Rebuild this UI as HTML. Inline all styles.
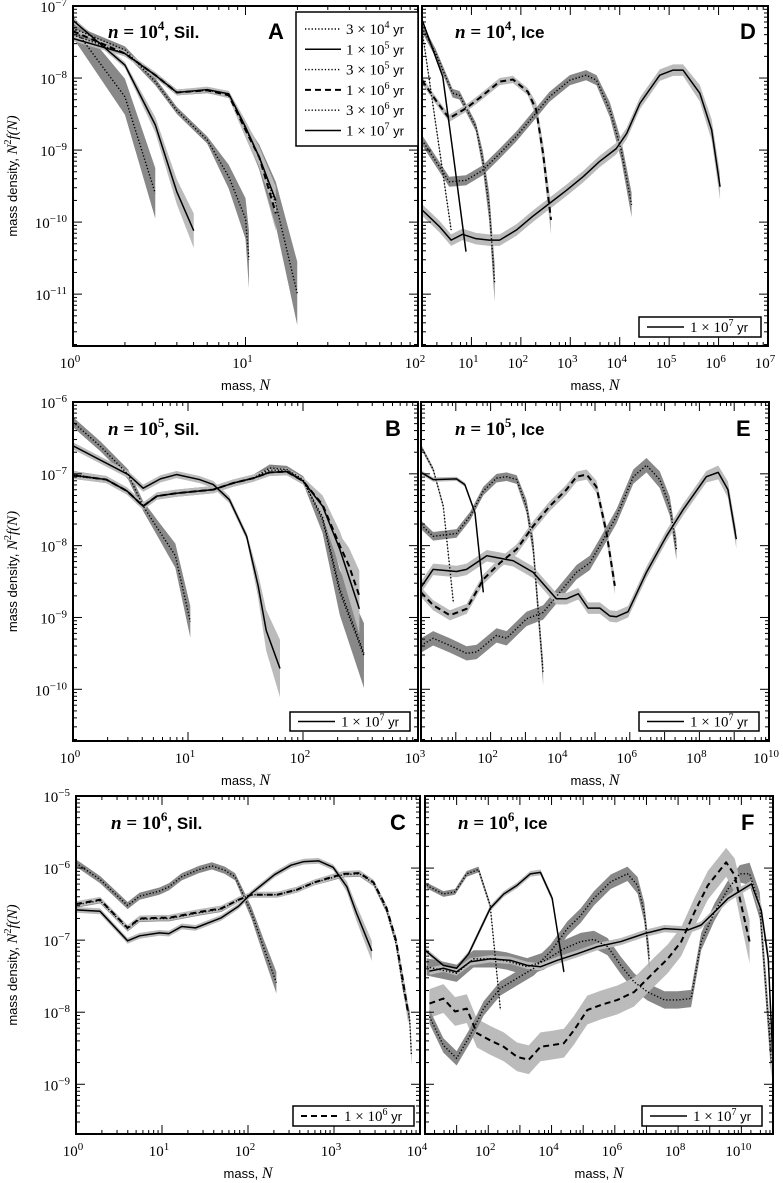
<!DOCTYPE html>
<html><head><meta charset="utf-8"><style>
html,body{margin:0;padding:0;background:#fff;}
svg{display:block;}
.tk{font-family:"Liberation Serif",serif;font-size:15px;}
.ax{font-family:"Liberation Sans",sans-serif;font-size:13px;}
</style></head><body>
<svg id="fig" width="783" height="1183" viewBox="0 0 783 1183" xmlns="http://www.w3.org/2000/svg"></svg>
<script>
// ---- data (log10 mass N, log10 mass density) ----
const A1_N=[0,0.301,0.477], A1_Y=[-7.29,-8.26,-9.6];
const A2_N=[0,0.301,0.477,0.602,0.70], A2_Y=[-7.2,-7.82,-8.65,-9.58,-10.12];
const A3_N=[0,0.301,0.477,0.602,0.778,0.903,1.0,1.02], A3_Y=[-7.31,-7.61,-8.05,-8.45,-8.86,-9.37,-9.95,-10.52];
const A4_N=[0,0.301,0.477,0.602,0.778,0.903,1.0,1.08,1.176], A4_Y=[-7.35,-7.66,-7.96,-8.2,-8.17,-8.24,-8.72,-9.1,-9.88];
const A5_N=[0,0.301,0.477,0.602,0.778,0.903,1.0,1.08,1.176,1.30], A5_Y=[-7.40,-7.66,-7.96,-8.2,-8.17,-8.22,-8.70,-9.1,-9.75,-10.99];
const A6_N=[0,0.301,0.477,0.602,0.778,0.903,1.0,1.08,1.176], A6_Y=[-7.45,-7.66,-7.96,-8.2,-8.16,-8.22,-8.68,-9.1,-9.7];

const D1_N=[0,0.59], D1_Y=[-7.33,-10.11];
const D2_N=[0,0.42,0.62,0.89], D2_Y=[-7.19,-7.98,-9.0,-10.41];
const D3_N=[0,0.28,0.62,0.76,1.09,1.23,1.36,1.47], D3_Y=[-7.3,-7.66,-8.21,-8.24,-8.68,-9.14,-9.79,-10.85];
const D4_N=[0,0.28,0.55,0.89,1.16,1.57,1.84,2.14,2.31,2.45,2.61], D4_Y=[-8.03,-8.31,-8.56,-8.42,-8.28,-8.05,-8.02,-8.19,-8.44,-9.05,-9.97];
const D5_N=[0,0.35,0.55,0.89,1.23,1.57,1.91,2.24,2.58,2.99,3.32,3.53,3.80,4.03,4.24], D5_Y=[-8.86,-9.23,-9.44,-9.42,-9.28,-9.05,-8.81,-8.54,-8.26,-8.03,-7.96,-8.03,-8.44,-9.0,-9.76];
const D6_N=[0,0.35,0.59,0.82,1.09,1.36,1.57,1.91,2.24,2.58,2.92,3.26,3.59,3.93,4.14,4.41,4.81,5.08,5.28,5.62,5.86,6.03], D6_Y=[-9.83,-10.06,-10.25,-10.17,-10.23,-10.25,-10.25,-10.11,-9.92,-9.74,-9.56,-9.37,-9.16,-8.98,-8.77,-8.35,-7.96,-7.89,-7.89,-8.21,-8.72,-9.51];

const B1_N=[0,0.24,0.48,0.61,0.76,0.89,1.02], B1_Y=[-6.28,-6.62,-7.01,-7.45,-7.82,-8.14,-9.06];
const B2_N=[0,0.48,0.61,0.76,0.90,1.10,1.22,1.36,1.51,1.61,1.68,1.80], B2_Y=[-6.61,-7.01,-7.20,-7.07,-7.01,-7.08,-7.15,-7.36,-7.87,-8.56,-9.18,-9.71];
const B3_N=[0,0.29,0.47,0.61,0.73,0.9,1.22,1.39,1.57,1.71,1.86,2.0,2.17,2.32,2.53], B3_Y=[-7.01,-7.08,-7.24,-7.45,-7.31,-7.27,-7.22,-7.13,-7.06,-6.92,-6.94,-7.08,-7.64,-8.65,-9.53];
const B4_N=[0,0.29,0.47,0.61,0.73,0.9,1.22,1.39,1.57,1.71,1.86,2.0,2.17,2.32,2.40,2.49], B4_Y=[-7.02,-7.08,-7.24,-7.45,-7.31,-7.27,-7.22,-7.13,-7.06,-6.98,-6.97,-7.1,-7.43,-8.0,-8.28,-8.70];
const B5_N=[0,0.29,0.47,0.61,0.73,0.9,1.22,1.39,1.57,1.71,1.86,2.0,2.17,2.32,2.53], B5_Y=[-7.03,-7.08,-7.24,-7.45,-7.31,-7.27,-7.22,-7.13,-7.06,-6.95,-6.95,-7.1,-7.6,-8.6,-9.5];
const B6_N=[0,0.29,0.47,0.61,0.73,0.9,1.22,1.39,1.57,1.71,1.86,2.0,2.17,2.32,2.49], B6_Y=[-7.02,-7.08,-7.24,-7.45,-7.31,-7.27,-7.22,-7.13,-7.06,-6.98,-6.97,-7.1,-7.45,-8.05,-8.88];

const E1_N=[0,0.35,0.64,0.93], E1_Y=[-6.62,-6.94,-7.45,-8.79];
const E2_N=[0,0.35,1.02,1.26,1.55,1.79], E2_Y=[-6.98,-7.08,-7.07,-7.15,-7.54,-8.65];
const E3_N=[0,0.35,1.02,1.41,1.79,2.17,2.46,2.75,3.03,3.22,3.51], E3_Y=[-7.71,-7.87,-7.83,-7.59,-7.24,-7.06,-7.04,-7.08,-7.45,-8.0,-9.78];
const E4_N=[0,0.35,0.83,1.31,1.79,2.27,2.75,3.22,3.70,4.18,4.47,4.76,5.04,5.33,5.57], E4_Y=[-8.65,-8.83,-8.97,-8.88,-8.47,-8.24,-8.05,-7.73,-7.45,-7.22,-7.04,-7.01,-7.18,-7.82,-8.56];
const E5_N=[0,0.35,0.83,1.31,1.60,2.17,2.46,3.03,3.51,3.99,4.47,4.85,5.14,5.62,6.10,6.48,6.86,7.15,7.34], E5_Y=[-9.39,-9.29,-9.39,-9.50,-9.48,-9.25,-9.29,-9.02,-8.93,-8.65,-8.37,-8.24,-8.0,-7.59,-7.04,-6.88,-7.08,-7.45,-8.05];
const E6_N=[0,0.35,1.02,1.31,1.89,2.65,3.22,3.89,4.18,4.52,4.80,5.14,5.43,5.62,5.95,6.48,7.05,7.53,8.20,8.54,8.82,9.06], E6_Y=[-8.58,-8.33,-8.36,-8.33,-8.14,-8.21,-8.37,-8.74,-8.74,-8.67,-8.87,-8.87,-8.98,-8.99,-8.92,-8.37,-7.87,-7.50,-7.04,-6.98,-7.22,-7.91];

const C1_N=[0,0.28,0.60,0.74,0.97,1.08,1.23,1.43,1.58,1.73,1.85,2.04,2.19,2.33], C1_Y=[-5.93,-6.16,-6.52,-6.39,-6.32,-6.26,-6.12,-6.02,-5.97,-6.03,-6.12,-6.62,-7.13,-7.59];
const C2_N=[0,0.28,0.60,0.74,0.97,1.08,1.23,1.39,1.54,1.69,1.89,2.04,2.31,2.50,2.65,2.82,2.99,3.15,3.26,3.44], C2_Y=[-6.58,-6.60,-7.01,-6.94,-6.90,-6.91,-6.81,-6.83,-6.76,-6.69,-6.53,-6.35,-6.09,-5.96,-5.91,-5.90,-5.99,-6.26,-6.62,-7.15];
const C3_N=[0,0.28,0.60,0.74,0.97,1.08,1.43,1.69,1.89,2.04,2.34,2.57,2.77,2.96,3.11,3.30,3.46,3.61,3.72,3.80,3.88,3.90], C3_Y=[-6.51,-6.45,-6.84,-6.71,-6.70,-6.70,-6.62,-6.57,-6.44,-6.37,-6.37,-6.30,-6.20,-6.14,-6.09,-6.08,-6.21,-6.58,-7.04,-7.63,-8.09,-8.6];
const C4_N=[0,0.28,0.60,0.74,0.97,1.08,1.43,1.69,1.89,2.04,2.34,2.57,2.77,2.96,3.11,3.30,3.46,3.61,3.72,3.80,3.86], C4_Y=[-6.50,-6.44,-6.83,-6.70,-6.69,-6.69,-6.61,-6.56,-6.44,-6.37,-6.37,-6.30,-6.20,-6.13,-6.08,-6.07,-6.20,-6.55,-7.0,-7.55,-8.0];

const F1_N=[0.05,0.58,0.95,1.32,1.69,2.06,2.38], F1_Y=[-6.24,-6.36,-6.33,-6.08,-6.02,-6.52,-7.95];
const F2_N=[0,0.58,1.0,1.38,2.06,2.49,2.91,3.33,3.65,4.02,4.39], F2_Y=[-7.14,-7.35,-7.39,-7.19,-6.56,-6.36,-6.24,-6.08,-6.06,-6.42,-7.44];
const F3_N=[0.05,0.58,1.0,1.53,2.17,2.59,3.23,3.76,4.39,4.92,5.34,5.77,6.19,6.61,7.04,7.57,7.99,8.41,8.73,9.15,9.58,9.95,10.26,10.58,10.95], F3_Y=[-7.37,-7.42,-7.46,-7.26,-7.26,-7.29,-7.37,-7.29,-7.12,-7.02,-6.99,-7.09,-7.35,-7.58,-7.72,-7.83,-7.83,-7.81,-7.02,-6.61,-6.29,-6.08,-6.08,-6.52,-8.69];
const F4_N=[0.14,0.58,0.95,1.32,1.64,2.06,2.49,2.91,3.28,3.65,3.97,4.39,4.71,5.13,5.56,6.08,6.61,7.25,7.67,8.10,8.52,8.94,9.52,9.79,10.0,10.26], F4_Y=[-7.88,-7.81,-7.99,-7.95,-8.29,-8.39,-8.48,-8.62,-8.66,-8.48,-8.46,-8.43,-8.25,-7.97,-7.90,-7.83,-7.72,-7.44,-7.26,-7.02,-6.61,-6.24,-5.92,-6.10,-6.52,-7.02];
const F5_N=[0.14,0.58,1.0,1.43,1.85,2.38,2.91,3.44,3.97,4.50,4.92,5.34,5.87,6.40,6.72,6.93,7.09], F5_Y=[-8.06,-8.46,-8.64,-8.32,-7.95,-7.67,-7.53,-7.39,-7.16,-6.84,-6.66,-6.42,-6.19,-6.08,-6.24,-6.61,-7.26];
const F6_N=[0.14,0.58,1.0,1.43,2.06,2.70,3.23,3.65,4.18,4.81,5.45,6.19,6.93,7.57,8.31,8.73,9.15,9.58,10.32,10.63,10.85,11.0], F6_Y=[-7.43,-7.39,-7.44,-7.30,-7.26,-7.28,-7.35,-7.37,-7.28,-7.19,-7.09,-7.02,-6.91,-6.84,-6.86,-6.79,-6.61,-6.42,-6.22,-6.59,-7.26,-8.69];

const ticksA=[0,1,2], ticksD=[0,1,2,3,4,5,6,7], ticksB=[0,1,2,3], ticksE=[0,2,4,6,8,10], ticksC=[0,1,2,3,4], ticksF=[0,2,4,6,8,10];

const SVGNS="http://www.w3.org/2000/svg";
const svg=document.getElementById('fig');
function el(tag,attrs,parent){const e=document.createElementNS(SVGNS,tag);for(const k in attrs)e.setAttribute(k,attrs[k]);(parent||svg).appendChild(e);return e;}

const STY={dot:{dash:"1.3,2",w:1.4},sol:{dash:"",w:1.5},das:{dash:"6,4",w:2}};

const panels=[
 {id:'A',x0:73,x1:418,y0:6,y1:346,xmin:0,xmax:2,ytop:-7,ybot:-11.72,left:true,xt:ticksA,showFirst:true,yl:[-7,-8,-9,-10,-11],
  title:'4',mat:'Sil.',tx:108,ty:38,lx:268,
  ser:[[A1_N,A1_Y,'dot','#888',0.05,0.3],[A2_N,A2_Y,'sol','#bbb',0.04,0.2],[A3_N,A3_Y,'dot','#888',0.05,0.35],[A4_N,A4_Y,'das','#bbb',0.04,0.2],[A5_N,A5_Y,'dot','#888',0.04,0.4],[A6_N,A6_Y,'sol','#bbb',0.04,0.15]]},
 {id:'D',x0:422,x1:768,y0:6,y1:346,xmin:0,xmax:7,ytop:-7,ybot:-11.72,left:false,xt:ticksD,showFirst:false,
  title:'4',mat:'Ice',tx:455,ty:38,lx:740,leg:[639,317,122,20,'sol','7'],
  ser:[[D1_N,D1_Y,'dot','#888',0.03,0],[D2_N,D2_Y,'sol','#bbb',0.03,0],[D3_N,D3_Y,'dot','#888',0.06,0.2],[D4_N,D4_Y,'das','#bbb',0.05,0.15],[D5_N,D5_Y,'dot','#888',0.07,0.1],[D6_N,D6_Y,'sol','#bbb',0.08,0.1]]},
 {id:'B',x0:73,x1:418,y0:402,y1:741,xmin:0,xmax:3,ytop:-6,ybot:-10.72,left:true,xt:ticksB,showFirst:true,yl:[-6,-7,-8,-9,-10],
  title:'5',mat:'Sil.',tx:108,ty:435,lx:385,leg:[290,712,120,19,'sol','7'],
  ser:[[B1_N,B1_Y,'dot','#888',0.07,0.15],[B2_N,B2_Y,'sol','#bbb',0.05,0.35],[B3_N,B3_Y,'dot','#888',0.05,0.4],[B4_N,B4_Y,'das','#bbb',0.05,0.3],[B5_N,B5_Y,'dot','#888',0.04,0.2],[B6_N,B6_Y,'sol','#bbb',0.05,0.3]]},
 {id:'E',x0:421,x1:769,y0:402,y1:741,xmin:0,xmax:10,ytop:-6,ybot:-10.72,left:false,xt:ticksE,showFirst:false,
  title:'5',mat:'Ice',tx:455,ty:435,lx:736,leg:[639,712,120,19,'sol','7'],
  ser:[[E1_N,E1_Y,'dot','#888',0.03,0],[E2_N,E2_Y,'sol','#bbb',0.03,0],[E3_N,E3_Y,'dot','#888',0.06,0.1],[E4_N,E4_Y,'das','#bbb',0.07,0.05],[E5_N,E5_Y,'dot','#888',0.1,0.05],[E6_N,E6_Y,'sol','#bbb',0.08,0.05]]},
 {id:'C',x0:76,x1:420,y0:796,y1:1134,xmin:0,xmax:4,ytop:-5,ybot:-9.69,left:true,xt:ticksC,showFirst:true,yl:[-5,-6,-7,-8,-9],
  title:'6',mat:'Sil.',tx:111,ty:829,lx:390,leg:[293,1106,121,20,'das','6'],
  ser:[[C1_N,C1_Y,'dot','#888',0.05,0.1],[C2_N,C2_Y,'sol','#bbb',0.04,0.1],[C3_N,C3_Y,'dot','#888',0.04,0.1],[C4_N,C4_Y,'das','#bbb',0.04,0.1]]},
 {id:'F',x0:425,x1:773,y0:796,y1:1134,xmin:0,xmax:11,ytop:-5,ybot:-9.69,left:false,xt:ticksF,showFirst:false,
  title:'6',mat:'Ice',tx:458,ty:829,lx:741,leg:[642,1106,120,20,'sol','7'],
  ser:[[F1_N,F1_Y,'dot','#888',0.04,0],[F2_N,F2_Y,'sol','#bbb',0.04,0],[F3_N,F3_Y,'dot','#888',0.12,0.1],[F4_N,F4_Y,'das','#bbb',0.2,0.1],[F5_N,F5_Y,'dot','#888',0.1,0.05],[F6_N,F6_Y,'sol','#bbb',0.05,0.1]]}
];

function sup(parent,base,exp,x,y,anchor,cls){
  const t=el('text',{x:x,y:y,'text-anchor':anchor,class:cls},parent);
  t.appendChild(document.createTextNode(base));
  const s=el('tspan',{dy:-6,'font-size':'11px'},t);
  s.textContent=exp;
  return t;
}

panels.forEach(p=>{
  const g=el('g',{});
  
  
  const sx=l=>p.x0+(l-p.xmin)/(p.xmax-p.xmin)*(p.x1-p.x0);
  const sy=l=>p.y0+(p.ytop-l)/(p.ytop-p.ybot)*(p.y1-p.y0);
  const cp=el('clipPath',{id:'cp'+p.id},g);
  el('rect',{x:p.x0,y:p.y0,width:p.x1-p.x0,height:p.y1-p.y0},cp);
  const plot=el('g',{'clip-path':'url(#cp'+p.id+')'},g);
  p.ser.forEach((s,si)=>{
    const [N,Y,st,col,h,t]=s; const n=N.length;
    const hw=i=>h+t*Math.max(0,(i-(n-4))/3);
    let up=[],dn=[];
    for(let i=0;i<n;i++){up.push(sx(N[i])+','+sy(Y[i]+hw(i)));dn.unshift(sx(N[i])+','+sy(Y[i]-hw(i)));}
    const b=el('polygon',{points:up.concat(dn).join(' '),fill:col,stroke:'none'},plot);
    
    
  });
  p.ser.forEach((s,si)=>{
    const [N,Y,st]=s;
    const pts=N.map((v,i)=>sx(v)+','+sy(Y[i])).join(' ');
    const l=el('polyline',{points:pts,fill:'none',stroke:'#000','stroke-width':STY[st].w,'stroke-dasharray':STY[st].dash,'stroke-linejoin':'round'},plot);
    
    
  });
  el('rect',{x:p.x0,y:p.y0,width:p.x1-p.x0,height:p.y1-p.y0,fill:'none',stroke:'#000','stroke-width':2},g);
  const xsp=(p.x1-p.x0)/(p.xmax-p.xmin);
  for(let d=p.xmin;d<=p.xmax;d++){
    const X=sx(d);
    el('line',{x1:X,x2:X,y1:p.y1,y2:p.y1-9,stroke:'#000','stroke-width':1},g);
    el('line',{x1:X,x2:X,y1:p.y0,y2:p.y0+9,stroke:'#000','stroke-width':1},g);
    const ks=(xsp>60)?[2,3,4,5,6,7,8,9]:[2,4,6,8];
    if(d<p.xmax){for(let k of ks){const xm=sx(d+Math.log10(k));
      el('line',{x1:xm,x2:xm,y1:p.y1,y2:p.y1-4,stroke:'#000','stroke-width':1},g);
      el('line',{x1:xm,x2:xm,y1:p.y0,y2:p.y0+4,stroke:'#000','stroke-width':1},g);}}
  }
  const tl=el('g',{},g);
  
  
  p.xt.forEach((d,i)=>{ if(i===0&&!p.showFirst)return; sup(tl,'10',String(d),sx(d)-3,p.y1+22,'middle','tk');});
  for(let d=Math.ceil(p.ybot);d<=p.ytop;d++){
    const Y=sy(d);
    el('line',{x1:p.x0,x2:p.x0+9,y1:Y,y2:Y,stroke:'#000','stroke-width':1},g);
    el('line',{x1:p.x1,x2:p.x1-9,y1:Y,y2:Y,stroke:'#000','stroke-width':1},g);
  }
  for(let d=Math.floor(p.ybot);d<p.ytop;d++){for(let k=2;k<10;k++){const v=d+Math.log10(k);if(v<p.ybot)continue;const Y=sy(v);
    el('line',{x1:p.x0,x2:p.x0+4,y1:Y,y2:Y,stroke:'#000','stroke-width':1},g);
    el('line',{x1:p.x1,x2:p.x1-4,y1:Y,y2:Y,stroke:'#000','stroke-width':1},g);}}
  if(p.left){
    const yl=el('g',{},g);
    
    
    p.yl.forEach(d=>{sup(yl,'10','\u2212'+(-d),p.x0-6,sy(d)+6,'end','tk');});
    const cy=(p.y0+p.y1)/2;
    const yt=el('text',{x:0,y:0,transform:'translate(17,'+cy+') rotate(-90)','text-anchor':'middle',class:'ax'},g);
    
    
    yt.appendChild(document.createTextNode('mass density, '));
    const n1=el('tspan',{'font-family':'Liberation Serif, serif','font-style':'italic','font-size':'15px'},yt);n1.textContent='N';
    const n2=el('tspan',{dy:-6,'font-size':'10px','font-family':'Liberation Serif, serif'},yt);n2.textContent='2';
    const n3=el('tspan',{dy:6,'font-family':'Liberation Serif, serif','font-style':'italic','font-size':'15px'},yt);n3.textContent='f(N)';
  }
  const xt=el('text',{x:(p.x0+p.x1)/2,y:p.y1+44,'text-anchor':'middle',class:'ax'},g);
  
  
  xt.appendChild(document.createTextNode('mass, '));
  const xn=el('tspan',{'font-family':'Liberation Serif, serif','font-style':'italic','font-size':'16px'},xt);xn.textContent='N';
  const tt=el('text',{x:p.tx,y:p.ty,'font-size':'19px','font-weight':'bold','font-family':'Liberation Serif, serif'},g);
  
  
  const ti=el('tspan',{'font-style':'italic'},tt);ti.textContent='n';
  const t2=el('tspan',{},tt);t2.textContent=' = 10';
  const t3=el('tspan',{dy:-8,'font-size':'13px'},tt);t3.textContent=p.title;
  const t4=el('tspan',{dy:8,'font-family':'Liberation Sans, sans-serif','font-size':'17px'},tt);t4.textContent=', '+p.mat;
  const lt=el('text',{x:p.lx,y:p.ty+1,'font-size':'22px','font-weight':'bold','font-family':'Liberation Sans, sans-serif'},g);
  
  
  lt.textContent=p.id;
  if(p.leg){
    const [lx,ly,lw,lh,st,ex]=p.leg;
    const lg=el('g',{},g);
    
    
    el('rect',{x:lx,y:ly,width:lw,height:lh,fill:'#fff',stroke:'#000','stroke-width':1.5},lg);
    el('line',{x1:lx+8,x2:lx+45,y1:ly+lh/2,y2:ly+lh/2,stroke:'#000','stroke-width':STY[st].w,'stroke-dasharray':STY[st].dash},lg);
    const tx=el('text',{x:lx+51,y:ly+lh/2+5,class:'tk','font-size':'14px'},lg);
    tx.appendChild(document.createTextNode('1 \u00d7 10'));
    const e1=el('tspan',{dy:-6,'font-size':'10px'},tx);e1.textContent=ex;
    const e2=el('tspan',{dy:6,'font-family':'Liberation Sans, sans-serif','font-size':'13px'},tx);e2.textContent=' yr';
  }
});

const legLabels=[['3','4','dot'],['1','5','sol'],['3','5','dot'],['1','6','das'],['3','6','dot'],['1','7','sol']];
const mg=el('g',{});


el('rect',{x:296,y:12,width:122,height:134,fill:'#fff',stroke:'#000','stroke-width':1.5},mg);
legLabels.forEach((L,i)=>{
  const y=29+i*20.3;
  const ln=el('line',{x1:305,x2:341,y1:y,y2:y,stroke:'#000','stroke-width':STY[L[2]].w,'stroke-dasharray':STY[L[2]].dash},mg);
  
  
  const t=el('text',{x:346,y:y+5,class:'tk','font-size':'14px'},mg);
  
  
  t.appendChild(document.createTextNode(L[0]+' \u00d7 10'));
  const a=el('tspan',{dy:-6,'font-size':'10px'},t);a.textContent=L[1];
  const b=el('tspan',{dy:6,'font-family':'Liberation Sans, sans-serif','font-size':'13px'},t);b.textContent=' yr';
});
</script>
</body></html>
